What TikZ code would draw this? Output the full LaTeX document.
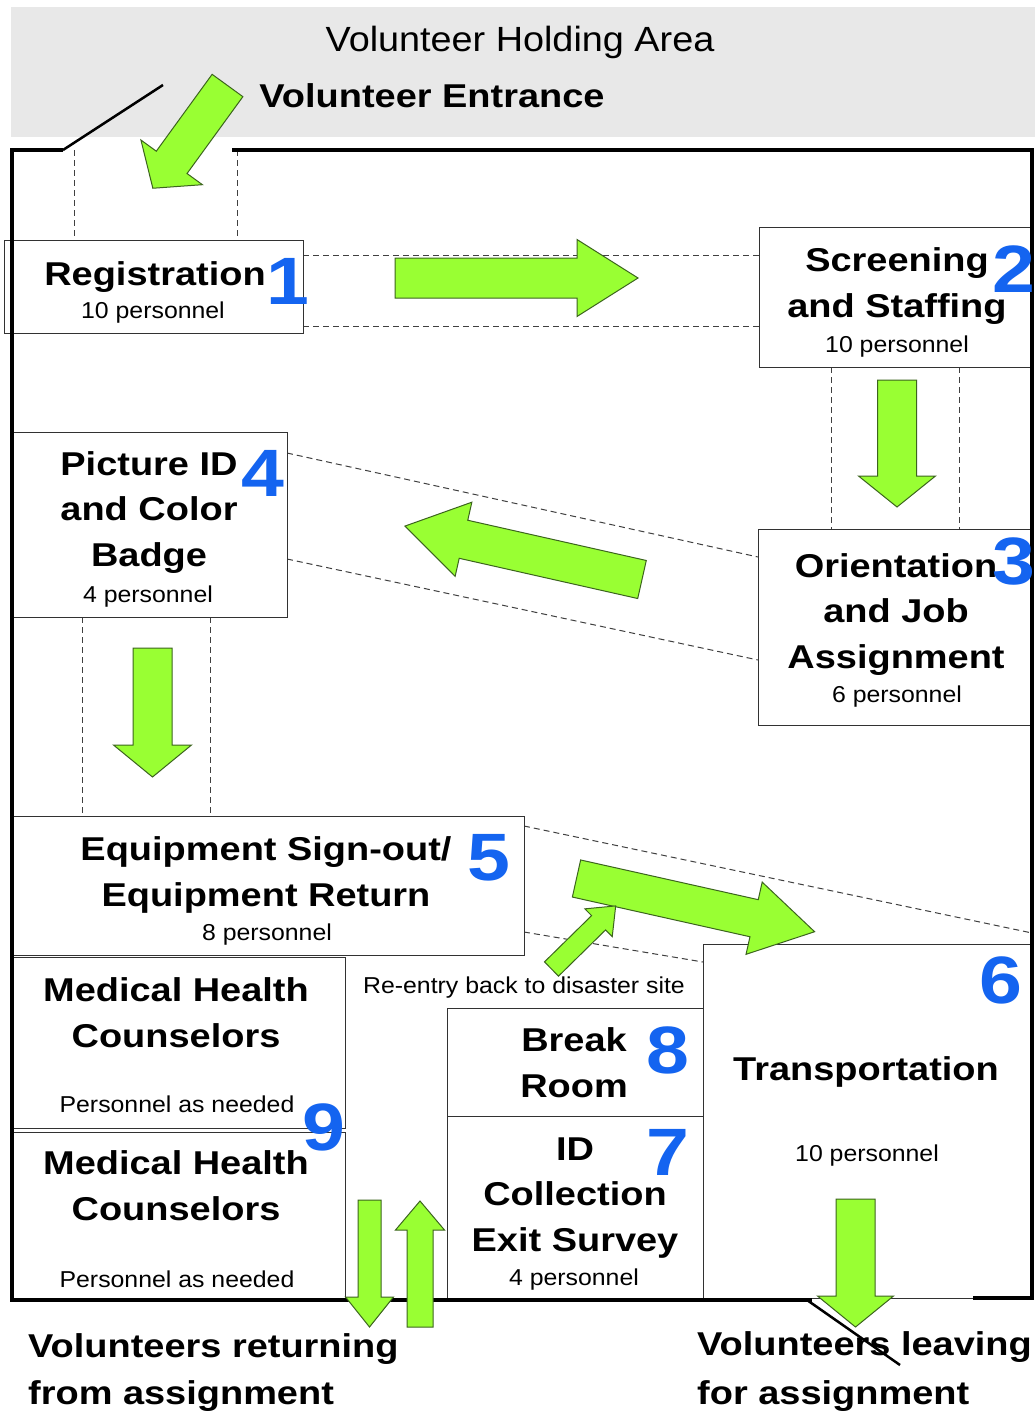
\documentclass[tikz,border=0pt]{standalone}
\usepackage{fontspec}
\setmainfont{Liberation Sans}[FakeStretch=1.08]
\newfontfamily\labelfont{Liberation Sans}[FakeStretch=1.15]
\definecolor{holdgray}{RGB}{232,232,232}
\definecolor{boxgray}{RGB}{50,50,50}
\definecolor{stepblue}{RGB}{20,100,240}
\definecolor{arrowgreen}{RGB}{153,255,51}
\definecolor{arrowedge}{RGB}{60,100,30}
\tikzset{
  room/.style={draw=boxgray, line width=1.4pt, fill=white, inner sep=0pt, anchor=north west},
  wall/.style={line width=4pt, line join=miter},
  guide/.style={draw=black!75, dash pattern=on 6pt off 4pt, line width=1pt},
  roomname/.style={font=\labelfont\bfseries\fontsize{33}{45.5}\selectfont, align=center, anchor=base, inner sep=0pt},
  staff/.style={font=\fontsize{23}{28}\selectfont, anchor=base, inner sep=0pt},
  stepno/.style={font=\labelfont\bfseries\fontsize{67}{67}\selectfont, text=stepblue, anchor=base, inner sep=0pt},
  pics/bigarrow/.style n args={4}{code={
    \filldraw[draw=arrowedge, fill=arrowgreen, line width=1pt]
      (0,-#2) -- ({#1-#4},-#2) -- ({#1-#4},-#3) -- (#1,0) -- ({#1-#4},#3) -- ({#1-#4},#2) -- (0,#2) -- cycle;
  }}
}
\begin{document}
\begin{tikzpicture}[x=1pt, y=-1pt]
  \useasboundingbox (0,0) rectangle (1035,1418);
  \fill[white] (0,0) rectangle (1035,1418);
  \fill[holdgray] (11,7) rectangle (1035,137);

  \draw[guide] (74,150) -- (74,240);
  \draw[guide] (237,150) -- (237,240);
  \draw[guide] (303,255) -- (759,255);
  \draw[guide] (303,326) -- (759,326);
  \draw[guide] (831,367) -- (831,529);
  \draw[guide] (959,367) -- (959,529);
  \draw[guide] (287,453) -- (758,557);
  \draw[guide] (287,559) -- (758,660);
  \draw[guide] (82,617) -- (82,816);
  \draw[guide] (210,617) -- (210,816);
  \draw[guide] (524,826) -- (1032,933);
  \draw[guide] (524,932) -- (703,962);

  \node[room, minimum width=299, minimum height=93] (reg) at (4,240) {};
  \node[room, minimum width=273, minimum height=140] (screen) at (759,227) {};
  \node[room, minimum width=274, minimum height=196] (orient) at (758,529) {};
  \node[room, minimum width=275, minimum height=185] (badge) at (12,432) {};
  \node[room, minimum width=512, minimum height=139] (equip) at (12,816) {};
  \node[room, minimum width=333, minimum height=171] (medA) at (12,957) {};
  \node[room, minimum width=333, minimum height=168] (medB) at (12,1132) {};
  \node[room, minimum width=256, minimum height=108] (brk) at (447,1008) {};
  \node[room, minimum width=256, minimum height=184] (idc) at (447,1116) {};
  \node[room, minimum width=329, minimum height=354] (trans) at (703,944) {};

  \draw[wall] (63,150) -- (12,150) -- (12,1300) -- (812,1300);
  \draw[wall] (232,150) -- (1032,150) -- (1032,1298) -- (973,1298);
  \draw[line width=2.5pt] (63,150) -- (163,85);

  \node[font=\fontsize{35}{40}\selectfont, anchor=base, inner sep=0pt] (holding) at (520,52) {Volunteer Holding Area};
  \node[roomname] (entrance) at (432,108) {Volunteer Entrance};

  \node[roomname] (regT) at (155,285) {Registration};
  \node[staff] (regS) at (153,318) {10 personnel};
  \node[stepno] (regN) at (288,304) {1};

  \node[roomname] (screenT) at (897,317) {Screening\\and Staffing};
  \node[staff] (screenS) at (897,352) {10 personnel};
  \node[stepno] (screenN) at (1014,292) {2};

  \node[roomname] (orientT) at (896,668) {Orientation\\and Job\\Assignment};
  \node[staff] (orientS) at (897,702) {6 personnel};
  \node[stepno] (orientN) at (1014,584) {3};

  \node[roomname] (badgeT) at (149,566) {Picture ID\\and Color\\Badge};
  \node[staff] (badgeS) at (148,602) {4 personnel};
  \node[stepno] (badgeN) at (263,496) {4};

  \node[roomname] (equipT) at (266,906) {Equipment Sign-out/\\Equipment Return};
  \node[staff] (equipS) at (267,940) {8 personnel};
  \node[stepno] (equipN) at (489,880) {5};

  \node[roomname] (medAT) at (176,1047) {Medical Health\\Counselors};
  \node[staff] (medAS) at (177,1112) {Personnel as needed};
  \node[roomname] (medBT) at (176,1220) {Medical Health\\Counselors};
  \node[staff] (medBS) at (177,1287) {Personnel as needed};
  \node[stepno] (medN) at (324,1150) {9};

  \node[staff] (reentry) at (524,993) {Re-entry back to disaster site};

  \node[roomname] (brkT) at (574,1097) {Break\\Room};
  \node[stepno] (brkN) at (668,1073) {8};

  \node[roomname] (idcT) at (575,1251) {ID\\Collection\\Exit Survey};
  \node[staff] (idcS) at (574,1285) {4 personnel};
  \node[stepno] (idcN) at (668,1175) {7};

  \node[roomname] (transT) at (866,1080) {Transportation};
  \node[staff] (transS) at (867,1161) {10 personnel};
  \node[stepno] (transN) at (1001,1003) {6};

  \node[roomname, align=left, anchor=base west, font=\labelfont\bfseries\fontsize{33}{47}\selectfont] (returning) at (28,1404) {Volunteers returning\\from assignment};
  \node[roomname, align=left, anchor=base west, font=\labelfont\bfseries\fontsize{33}{49}\selectfont] (leaving) at (697,1404) {Volunteers leaving\\for assignment};

  \pic[rotate=-126] at (227.5,85.5) {bigarrow={127}{19}{38}{32}};
  \pic at (395,278) {bigarrow={243}{20}{38.5}{61}};
  \pic[rotate=-90] at (897,380) {bigarrow={127}{19.5}{38.5}{31}};
  \pic[rotate=-192.7] at (642,579.5) {bigarrow={243}{19.5}{38}{60}};
  \pic[rotate=-90] at (152.5,648) {bigarrow={129}{19.5}{39}{32}};
  \pic[rotate=-12.6] at (576.5,878.5) {bigarrow={244}{19}{37}{62}};
  \pic[rotate=44.5] at (551.5,969) {bigarrow={90}{10}{19.5}{24}};
  \pic[rotate=-90] at (369.5,1200) {bigarrow={127}{11.5}{24}{30}};
  \pic[rotate=90] at (420,1327) {bigarrow={126}{13}{24.5}{29}};
  \pic[rotate=-90] at (855.5,1199) {bigarrow={128}{19.5}{38}{31}};

  \draw[line width=2.5pt] (807,1300) -- (900,1365);
\end{tikzpicture}
\end{document}
